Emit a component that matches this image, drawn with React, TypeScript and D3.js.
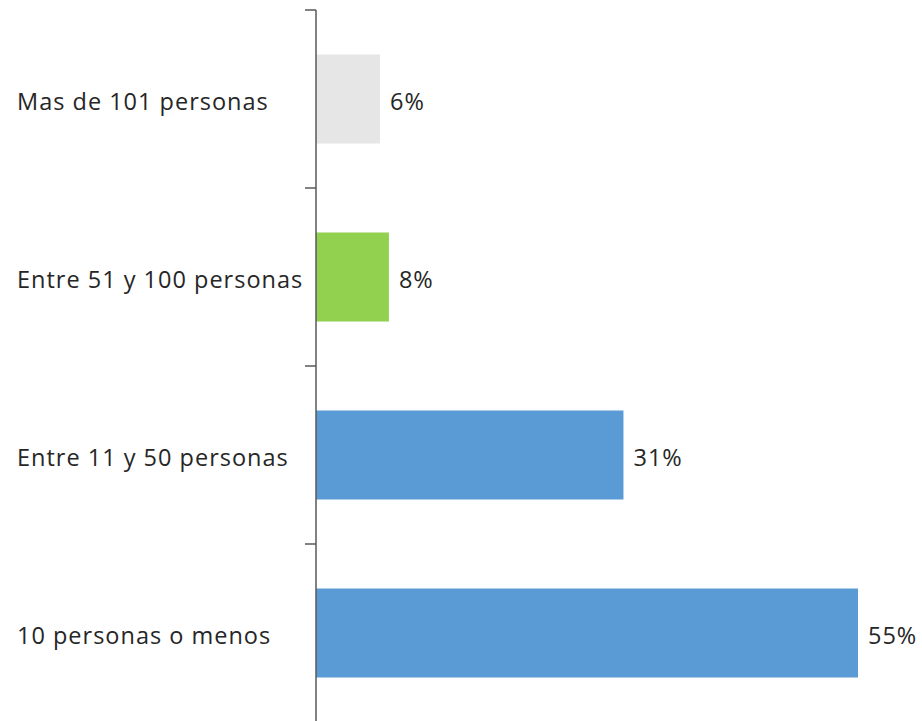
import React from "react";
import * as d3 from "d3";

const categories = ["Mas de 101 personas", "Entre 51 y 100 personas", "Entre 11 y 50 personas", "10 personas o menos"];
const values = [0.065, 0.074, 0.312, 0.55];
const valueLabels = ["6%", "8%", "31%", "55%"];
const colors = ["#e6e6e6", "#92d050", "#5b9bd5", "#5b9bd5"];

const W = 922;
const H = 721;
const axisX = 316;
const top = 10;
const bottom = 722;

export default function App() {
  const y = d3.scaleBand<string>().domain(categories).range([top, bottom]).paddingInner(0.5).paddingOuter(0.25);
  const x = d3.scaleLinear().domain([0, 0.55]).range([axisX, 858]);
  const ticks = d3.range(categories.length + 1).map((i) => top + i * y.step());
  const font = "'Open Sans', 'Noto Sans', sans-serif";
  const textProps = { fontFamily: font, fontSize: 23.5, fill: "#262626", letterSpacing: 1 };
  const base = (c: string) => (y(c) as number) + y.bandwidth() / 2 + 10.5;
  return (
    <svg width={W} height={H} style={{ position: "fixed", left: 0, top: 0, background: "#fff" }}>
      {categories.map((c, i) => (
        <g key={c}>
          <rect x={axisX} y={y(c)} width={x(values[i]) - axisX} height={y.bandwidth()} fill={colors[i]} />
          <text x={x(values[i]) + 10} y={base(c)} {...textProps}>
            {valueLabels[i]}
          </text>
          <text x={17} y={base(c)} {...textProps}>
            {c}
          </text>
        </g>
      ))}
      <line x1={axisX} x2={axisX} y1={top} y2={bottom} stroke="#595959" strokeWidth={1.5} />
      {ticks.map((t) => (
        <line key={t} x1={305} x2={axisX} y1={t} y2={t} stroke="#595959" strokeWidth={1.5} />
      ))}
    </svg>
  );
}
